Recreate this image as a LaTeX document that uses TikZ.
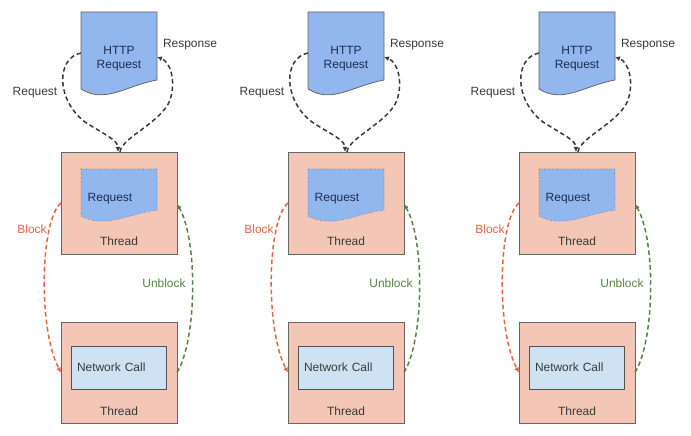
\documentclass[tikz,border=0pt]{standalone}
\usepackage{fontspec}
\setmainfont{Liberation Sans}
\usetikzlibrary{arrows.meta,calc}
\definecolor{docblue}{HTML}{92B6EE}
\definecolor{thrfill}{HTML}{F3C6B6}
\definecolor{netfill}{HTML}{CFE2F3}
\definecolor{edgegray}{HTML}{666666}
\definecolor{txtdark}{HTML}{3A3A3A}
\definecolor{txtnavy}{HTML}{1E2D4F}
\definecolor{blockred}{HTML}{E9623E}
\definecolor{ublgreen}{HTML}{55863F}
\tikzset{
  shapebox/.style={inner sep=0pt,outer sep=0pt},
  thrbox/.style={draw=edgegray,fill=thrfill,line width=0.9bp,minimum width=116bp,minimum height=102bp,inner sep=0pt,outer sep=0pt},
  netbox/.style={draw=edgegray!80!black,fill=netfill,line width=0.9bp,minimum width=95bp,minimum height=43bp,inner sep=6bp,text width=83bp,align=left,outer sep=0pt,text=txtdark},
  txt/.style={font=\fontsize{12}{14}\selectfont,text=txtdark,align=center,inner sep=1pt},
  navytxt/.style={txt,text=txtnavy},
  conn/.style={dashed,dash pattern=on 4.5bp off 3bp,line width=1.5bp,-{Latex[length=5bp,width=5bp]}},
  docout/.style={draw=edgegray,fill=docblue,line width=0.8bp},
  docin/.style={draw=edgegray,fill=docblue,line width=0.6bp,dotted}
}
\begin{document}
\begin{tikzpicture}[x=1bp,y=-1bp,every node/.style={font=\fontsize{12}{14}\selectfont}]
\useasboundingbox[fill=white] (0,0) rectangle (691,436);
\foreach \dx/\i in {0/1,227/2,458/3}{
\begin{scope}[xshift=\dx bp]
  % HTTP request document
  \draw[docout] (81,12) -- (157,12) -- (157,80) .. controls (125,86) and (105,104) .. (81,89) -- cycle;
  \node[shapebox,minimum width=76bp,minimum height=78bp] (h\i) at (119,51) {};
  \node[navytxt] (ht\i) at (119,59) {HTTP\\Request};
  % top thread
  \node[thrbox] (t\i) at (119,203) {};
  \draw[docin] (81,169) -- (157,169) -- (157,210) .. controls (128,214) and (105,229) .. (81,216) -- cycle;
  \node[navytxt] (rq\i) at (110,199) {Request};
  \node[txt] (tt\i) at (119,241) {Thread};
  % bottom thread
  \node[thrbox,minimum height=101bp] (b\i) at (119,372.5) {};
  \node[netbox] (n\i) at (118.5,367.5) {Network Call};
  \node[txt] (bt\i) at (119,411) {Thread};
  % request / response arrows
  \draw[conn,draw=txtdark] ([yshift=-2bp]h\i.west) .. controls (56,58) and (56,100) .. (85,122) .. controls (105,135) and (118,140) .. ([xshift=-1bp]t\i.north);
  \draw[conn,draw=txtdark] ([xshift=1bp]t\i.north) .. controls (121,138) and (162,122) .. (170,100) .. controls (176,82) and (171,62) .. ([yshift=-6bp]h\i.east);
  \node[txt] (lq\i) at (35,93) {Request};
  \node[txt] (lr\i) at (190,45) {Response};
  % block / unblock
  \draw[conn,draw=blockred] (t\i.west) .. controls (40,220) and (38,330) .. (b\i.west);
  \draw[conn,draw=ublgreen] (b\i.east) .. controls (197,340) and (198,240) .. ([yshift=-1bp]t\i.east);
  \node[txt,text=blockred] (lb\i) at (32,229) {Block};
  \node[txt,text=ublgreen] (lu\i) at (164,283) {Unblock};
\end{scope}
}
\end{tikzpicture}
\end{document}
